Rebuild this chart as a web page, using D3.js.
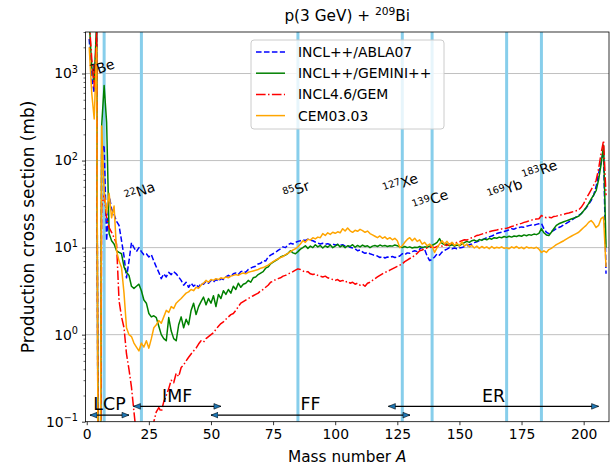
<!DOCTYPE html>
<html>
<head>
<meta charset="utf-8">
<script src="https://cdn.jsdelivr.net/npm/d3@7"></script>
<style>
  body { margin: 0; background: #fff; }
  text { font-family: "DejaVu Sans", sans-serif; fill: #000; }
</style>
</head>
<body>
<svg id="chart" width="611" height="468"></svg>
<script>
// mass numbers A = 1..209
const massNumbers = d3.range(1, 210);

// production cross sections (mb), one value per A; 0 = not produced
const abla07 = [
  2500, 900, 600, 3000, 0, 120, 150, 12, 40, 28,
  24, 20, 18, 12, 8, 4.5, 7, 11.4, 10, 9,
  10, 9, 8.3, 8.5, 7.8, 8.3, 7, 6, 5.2, 4.4,
  5, 4.6, 5.2, 4.9, 5.3, 5.0, 4.6, 4.2, 3.7, 4.0,
  3.5, 3.9, 3.6, 3.8, 3.5, 3.9, 3.8, 4.1, 3.9, 4.2,
  4.0, 4.3, 4.1, 4.4, 4.3, 4.6, 4.8, 4.6, 5.0, 5.1,
  4.9, 5.3, 5.4, 5.2, 5.6, 5.8, 6.0, 6.1, 6.5, 6.6,
  7.1, 7.0, 7.8, 8.2, 8.5, 8.8, 9.3, 9.7, 10.2, 10.0,
  10.8, 11.2, 11.0, 11.5, 11.8, 12.0, 12.3, 12.1, 12.5, 12.2,
  12.0, 11.6, 11.3, 11.0, 11.2, 10.9, 11.1, 10.8, 11.0, 10.7,
  10.9, 10.6, 10.8, 10.4, 10.5, 10.1, 9.9, 9.7, 9.2, 9.4,
  8.9, 8.6, 8.8, 8.5, 8.3, 8.1, 8.0, 7.7, 7.9, 7.6,
  7.8, 7.7, 7.9, 7.7, 7.8, 8.0, 8.5, 8.3, 8.7, 8.6,
  9.0, 9.2, 9.0, 9.6, 10.1, 9.5, 8.0, 7.1, 7.3, 7.8,
  8.5, 8.2, 8.9, 9.3, 9.6, 10.0, 9.7, 9.9, 9.7, 9.9,
  10.0, 10.3, 10.5, 10.8, 11.0, 11.4, 11.7, 12.0, 12.3, 12.6,
  13.0, 13.3, 13.6, 14.0, 14.5, 14.8, 15.0, 15.3, 15.6, 16.0,
  16.5, 16.3, 16.8, 17.0, 17.3, 17.1, 17.6, 17.9, 18.2, 18.0,
  18.5, 18.8, 19.0, 16.5, 15.0, 14.5, 15.2, 15.8, 16.5, 17.0,
  17.5, 18.3, 19.0, 19.8, 20.5, 21.5, 22.5, 23.5, 24.5, 26.5,
  28.5, 31.5, 34.7, 40, 50, 71, 95, 130, 5
];

const gemini = [
  4000, 1200, 800, 4000, 0, 250, 730, 275, 14.5, 12,
  11, 9.2, 8.8, 8.5, 6, 5.2, 4.8, 3.6, 3.4, 3.6,
  3.8, 3.2, 2.5, 2.3, 1.75, 1.6, 1.65, 1.57, 1.25, 1.0,
  0.9, 0.85, 1.57, 1.1, 0.9, 0.85, 1.3, 1.6, 1.2, 1.5,
  1.3, 1.9, 2.3, 1.7, 2.1, 2.4, 2.7, 2.2, 2.6, 2.3,
  2.8, 2.1, 2.9, 2.6, 3.2, 2.9, 3.3, 3.0, 3.6, 3.3,
  3.9, 3.5, 3.8, 3.9, 4.2, 4.0, 4.5, 4.6, 4.9, 5.1,
  5.3, 5.8, 6.0, 6.5, 6.8, 7.1, 7.4, 7.8, 8.0, 8.2,
  8.6, 9.2, 8.7, 8.5, 9.0, 9.6, 10.0, 10.5, 9.8, 10.4,
  10.0, 10.8, 10.2, 10.6, 9.9, 10.5, 10.1, 10.7, 10.0, 10.4,
  10.9, 10.2, 10.6, 10.0, 10.5, 10.3, 10.8, 10.1, 10.6, 10.2,
  10.7, 10.3, 10.5, 10.0, 10.4, 10.6, 10.3, 10.7, 10.4, 10.6,
  10.3, 10.5, 10.4, 10.7, 10.5, 10.2, 10.0, 10.3, 10.0, 10.2,
  9.9, 10.1, 10.0, 10.3, 10.0, 10.2, 10.1, 10.4, 10.6, 11.0,
  11.5, 12.7, 11.2, 10.8, 11.0, 10.5, 10.8, 10.4, 10.7, 10.5,
  11.0, 11.4, 11.8, 11.5, 12.0, 12.2, 11.8, 12.4, 12.1, 12.6,
  12.3, 12.8, 12.5, 13.0, 12.8, 13.2, 13.0, 13.4, 13.1, 13.5,
  13.2, 13.6, 13.4, 13.8, 13.5, 14.0, 13.7, 14.1, 13.9, 14.3,
  14.1, 14.6, 16.5, 14.8, 14.0, 13.8, 15.0, 16.5, 18.0, 18.8,
  19.3, 19.8, 20.3, 20.8, 21.3, 21.8, 22.3, 23.0, 24.5, 26.5,
  29, 32, 36, 40, 45, 60, 90, 150, 10
];

const gem = [
  4000, 1500, 700, 3000, 0, 30, 40, 22, 17, 15,
  13, 11, 2.45, 1.6, 1.2, 0.6, 0.4, 0.25, 0.13, 0.07,
  0.05, 0.04, 0.03, 0.04, 0.06, 0.08, 0.1, 0.13, 0.145, 0.13,
  0.17, 0.2, 0.24, 0.3, 0.28, 0.36, 0.33, 0.42, 0.45, 0.5,
  0.55, 0.6, 0.65, 0.7, 0.78, 0.85, 0.82, 0.9, 0.95, 1.0,
  1.05, 1.15, 1.25, 1.34, 1.4, 1.5, 1.6, 1.7, 1.75, 1.9,
  2.1, 2.3, 2.4, 2.5, 2.6, 2.7, 2.8, 2.9, 3.0, 3.2,
  3.3, 3.5, 3.7, 4.0, 4.1, 4.3, 4.4, 4.5, 4.7, 4.8,
  5.0, 5.1, 5.3, 5.5, 5.7, 5.6, 5.4, 5.2, 5.3, 5.0,
  4.9, 5.0, 4.8, 4.7, 4.6, 4.7, 4.5, 4.4, 4.3, 4.2,
  4.3, 4.1, 4.2, 4.0, 4.1, 3.9, 4.0, 3.8, 3.9, 3.7,
  3.8, 3.6, 3.9, 4.0, 4.2, 4.4, 4.6, 4.8, 5.0, 5.2,
  5.3, 5.5, 5.7, 5.9, 6.1, 6.3, 6.5, 6.9, 7.2, 7.5,
  7.7, 8.2, 8.6, 9.2, 9.4, 9.7, 9.9, 10.0, 10.2, 10.0,
  10.3, 10.5, 10.4, 10.8, 10.6, 11.0, 11.2, 11.0, 11.5, 11.7,
  12.0, 12.3, 12.2, 12.6, 13.0, 13.3, 13.8, 14.0, 14.3, 14.6,
  14.9, 15.2, 15.5, 15.7, 15.9, 16.2, 16.4, 16.5, 16.7, 17.0,
  17.5, 17.8, 18.3, 18.6, 19.0, 19.5, 19.8, 20.3, 20.7, 21.0,
  21.3, 21.5, 23.4, 22.5, 22.0, 22.3, 22.0, 22.8, 23.0, 23.5,
  23.8, 24.2, 24.6, 25.0, 25.5, 26.0, 26.5, 27.0, 29.0, 32.0,
  36.5, 41, 46, 52, 59, 80, 120, 170, 40
];

const cem = [
  2000, 600, 300, 2000, 0, 250, 43, 25, 42, 22,
  30, 9.2, 7, 5.9, 3, 1.2, 1.0, 0.95, 0.8, 0.72,
  0.65, 0.8, 0.72, 0.85, 0.7, 0.9, 1.2, 1.3, 1.45, 1.35,
  1.6, 1.9, 1.8, 2.1, 2.0, 2.3, 2.45, 2.6, 2.8, 3.0,
  3.1, 3.3, 3.2, 3.5, 3.4, 3.7, 3.9, 4.2, 4.0, 4.3,
  4.2, 4.4, 4.3, 4.5, 4.4, 4.6, 4.5, 4.7, 4.8, 4.9,
  4.8, 5.0, 5.1, 5.0, 5.2, 5.3, 5.4, 5.5, 5.6, 5.8,
  5.9, 6.1, 6.3, 6.6, 6.9, 7.2, 7.4, 7.7, 7.9, 8.3,
  8.6, 9.0, 9.4, 9.7, 10.2, 11.0, 12.0, 11.5, 12.5, 12.2,
  13.0, 12.6, 13.2, 13.0, 14.5, 13.8, 14.8, 14.2, 15.0, 14.6,
  15.2, 14.8, 16.5, 15.5, 16.8, 15.6, 15.0, 15.8, 15.4, 16.2,
  15.7, 15.0, 15.5, 14.5, 14.0, 13.5, 13.0, 13.6, 12.8, 13.3,
  12.5, 13.0, 12.3, 12.8, 12.0, 10.0, 10.5, 11.5, 12.4, 13.0,
  12.0, 12.8, 11.8, 12.3, 11.0, 11.5, 10.5, 11.0, 10.4, 8.8,
  10.0, 11.0, 12.0, 11.0, 11.8, 10.8, 11.5, 10.6, 11.2, 10.5,
  11.6, 10.4, 11.0, 10.2, 10.6, 9.9, 10.4, 9.8, 10.3, 9.9,
  10.2, 9.7, 10.3, 9.8, 10.1, 9.9, 10.2, 9.8, 10.0, 9.7,
  10.2, 9.9, 10.3, 9.8, 10.1, 9.7, 10.2, 9.9, 10.0, 9.8,
  10.1, 9.6, 8.8, 9.2, 8.8, 9.5, 9.8, 10.3, 10.8, 11.2,
  11.6, 12.0, 12.5, 13.0, 13.5, 14.0, 14.5, 15.0, 16.0, 17.0,
  18.0, 19.5, 20.5, 19.0, 17.0, 18.0, 21.5, 22.5, 6
];

const seriesNames = ['INCL++/ABLA07', 'INCL++/GEMINI++', 'INCL4.6/GEM', 'CEM03.03'];

// measured nuclides marked with vertical lines
const nuclideMass = [7, 22, 85, 127, 139, 169, 183];
const nuclideSymbol = ['Be', 'Na', 'Sr', 'Xe', 'Ce', 'Yb', 'Re'];

// product regions along the mass axis
const regionNames = ['LCP', 'IMF', 'FF', 'ER'];
const regionFrom = [1.3, 18.8, 50, 121.4];
const regionTo = [17, 54, 130.1, 206];

const xTicks = [0, 25, 50, 75, 100, 125, 150, 175, 200];
const yTicks = [0.1, 1, 10, 100, 1000];

// ---- layout ----
const labelHeight = [1040, 39, 41, 48, 31, 41, 68];   // mb, where nuclide labels sit
const regionArrowY = [0.119, 0.15, 0.119, 0.15];
const regionTextY = [0.162, 0.197, 0.162, 0.197];

const svg = d3.select('#chart');
const pL = 85.5, pR = 609, pT = 32, pB = 421.7;
const FS = 13.9;

const x = d3.scaleLinear().domain([-0.5, 210.2]).range([pL, pR]);
const y = d3.scaleLog().domain([0.1, 3000]).range([pB, pT]);

const defs = svg.append('defs');
defs.append('clipPath').attr('id', 'plotclip')
  .append('rect').attr('x', pL).attr('y', pT)
  .attr('width', pR - pL).attr('height', pB - pT);

// grid
svg.append('g').selectAll('line').data(yTicks.slice(1)).join('line')
  .attr('x1', pL).attr('x2', pR)
  .attr('y1', d => y(d)).attr('y2', d => y(d))
  .attr('stroke', '#b0b0b0').attr('stroke-width', 0.8);

const plot = svg.append('g').attr('clip-path', 'url(#plotclip)');

// nuclide lines
plot.append('g').selectAll('line').data(nuclideMass).join('line')
  .attr('x1', d => x(d)).attr('x2', d => x(d))
  .attr('y1', pT).attr('y2', pB)
  .attr('stroke', '#87ceeb').attr('stroke-width', 3);

// curves
const styles = [
  { data: abla07, color: '#0000ff', dash: '5.55,2.4' },
  { data: gemini, color: '#008000', dash: null },
  { data: gem, color: '#ff0000', dash: '9.6,2.4,1.5,2.4' },
  { data: cem, color: '#ffa500', dash: null }
];
const line = d3.line()
  .x(d => x(d[0]))
  .y(d => y(d[1] > 0 ? d[1] : 1e-6));

styles.forEach(s => {
  plot.append('path')
    .datum(massNumbers.map((a, i) => [a, s.data[i]]))
    .attr('d', line)
    .attr('fill', 'none')
    .attr('stroke', s.color)
    .attr('stroke-width', 1.5)
    .attr('stroke-linejoin', 'round')
    .attr('stroke-dasharray', s.dash);
});

// nuclide labels
const lab = svg.append('g');
nuclideMass.forEach((a, i) => {
  const t = lab.append('text')
    .attr('text-anchor', 'middle')
    .attr('font-size', FS)
    .attr('transform', `translate(${x(a)},${y(labelHeight[i])}) rotate(-20)`)
    .attr('dy', '0.35em');
  t.append('tspan').attr('font-size', FS * 0.7).attr('dy', '-0.45em').text(a);
  t.append('tspan').attr('dy', '0.3em').text(nuclideSymbol[i]);
});

// region arrows
defs.append('marker').attr('id', 'head')
  .attr('viewBox', '0 0 10 10').attr('refX', 10).attr('refY', 5)
  .attr('markerWidth', 8).attr('markerHeight', 7)
  .attr('markerUnits', 'userSpaceOnUse')
  .attr('orient', 'auto-start-reverse')
  .append('path').attr('d', 'M0,1 L10,5 L0,9 Z')
  .attr('fill', '#1f77b4').attr('stroke', '#000').attr('stroke-width', 0.8);

const arrows = svg.append('g');
regionNames.forEach((name, i) => {
  arrows.append('line')
    .attr('x1', x(regionFrom[i])).attr('x2', x(regionTo[i]))
    .attr('y1', y(regionArrowY[i])).attr('y2', y(regionArrowY[i]))
    .attr('stroke', '#000').attr('stroke-width', 1.2)
    .attr('marker-start', 'url(#head)').attr('marker-end', 'url(#head)');
  arrows.append('text')
    .attr('x', x((regionFrom[i] + regionTo[i]) / 2))
    .attr('y', y(regionTextY[i]))
    .attr('dy', '0.35em')
    .attr('text-anchor', 'middle')
    .attr('font-size', 17.4)
    .text(name);
});

// frame
svg.append('rect')
  .attr('x', pL).attr('y', pT)
  .attr('width', pR - pL).attr('height', pB - pT)
  .attr('fill', 'none').attr('stroke', '#000').attr('stroke-width', 0.8);

// x axis
const xAxis = svg.append('g')
  .attr('transform', `translate(0,${pB})`)
  .call(d3.axisBottom(x).tickValues(xTicks).tickSize(3.5).tickPadding(3.5).tickSizeOuter(0));
xAxis.select('.domain').remove();
xAxis.selectAll('line').attr('stroke-width', 0.8);
xAxis.selectAll('text').attr('font-size', FS).attr('font-family', '"DejaVu Sans", sans-serif');

// y axis: major, minor
const yAxis = svg.append('g').attr('transform', `translate(${pL},0)`)
  .call(d3.axisLeft(y).tickValues(yTicks).tickSize(3.5).tickFormat('').tickSizeOuter(0));
yAxis.select('.domain').remove();
yAxis.selectAll('line').attr('stroke-width', 0.8);

const minor = [];
yTicks.forEach(d => {
  for (let k = 2; k <= 9; k++) if (d * k <= 3000) minor.push(d * k);
});
const yMinor = svg.append('g').attr('transform', `translate(${pL},0)`)
  .call(d3.axisLeft(y).tickValues(minor).tickSize(2).tickFormat('').tickSizeOuter(0));
yMinor.select('.domain').remove();
yMinor.selectAll('line').attr('stroke-width', 0.6);

const yLab = svg.append('g');
yTicks.forEach(d => {
  const e = Math.round(Math.log10(d));
  const t = yLab.append('text')
    .attr('x', pL - 7.5).attr('y', y(d)).attr('dy', '0.35em')
    .attr('text-anchor', 'end').attr('font-size', FS);
  t.append('tspan').text('10');
  t.append('tspan').attr('font-size', FS * 0.7).attr('dy', '-0.55em')
    .text(e < 0 ? '\u2212' + (-e) : e);
});

// axis titles
svg.append('text')
  .attr('x', (pL + pR) / 2).attr('y', 462)
  .attr('text-anchor', 'middle').attr('font-size', 15.3)
  .html('Mass number <tspan font-style="italic">A</tspan>');

svg.append('text')
  .attr('transform', `translate(33.5,${(pT + pB) / 2}) rotate(-90)`)
  .attr('text-anchor', 'middle').attr('font-size', 17)
  .text('Production cross section (mb)');

// title
const title = svg.append('text')
  .attr('x', (pL + pR) / 2).attr('y', 21)
  .attr('text-anchor', 'middle').attr('font-size', 15.3);
title.append('tspan').text('p(3 GeV) + ');
title.append('tspan').attr('font-size', 15.3 * 0.7).attr('dy', '-0.6em').text('209');
title.append('tspan').attr('dy', '0.42em').text('Bi');

// legend
const lg = svg.append('g');
lg.append('rect')
  .attr('x', 251).attr('y', 40).attr('width', 193).attr('height', 89)
  .attr('rx', 3).attr('fill', '#fff').attr('fill-opacity', 0.8)
  .attr('stroke', '#cccccc').attr('stroke-width', 1);
styles.forEach((s, i) => {
  const ly = 52 + i * 21.2;
  lg.append('line')
    .attr('x1', 256).attr('x2', 285).attr('y1', ly).attr('y2', ly)
    .attr('stroke', s.color).attr('stroke-width', 1.5)
    .attr('stroke-dasharray', s.dash);
  lg.append('text')
    .attr('x', 298).attr('y', ly).attr('dy', '0.36em')
    .attr('font-size', FS).text(seriesNames[i]);
});
</script>
</body>
</html>
